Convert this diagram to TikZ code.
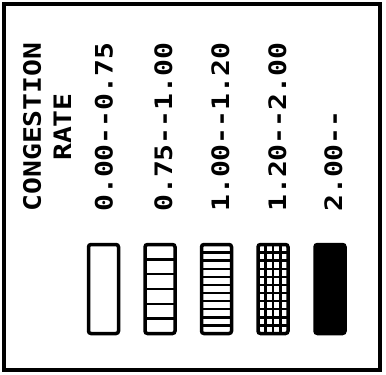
\documentclass[tikz,border=0pt]{standalone}
\usepackage{graphicx}
\usepackage{fontspec}
\newfontfamily\plotfont{DejaVu Sans Mono}
\newcommand{\dd}{-\kern0pt-}
\newcommand{\plottxt}[1]{\scalebox{1.17}[1]{\plotfont\bfseries #1}}
\begin{document}
\begin{tikzpicture}[x=1pt,y=-1pt,
  lbl/.style={rotate=90,anchor=base west,inner sep=0pt,font=\fontsize{24}{24}\selectfont},
  ttl/.style={rotate=90,anchor=base,inner sep=0pt,font=\fontsize{24}{24}\selectfont},
  keybox/.style={draw,line width=3.5pt,rounded corners=2.5pt},
  hatch/.style={line width=2.4pt}]
\useasboundingbox[fill=white] (0,0) rectangle (386,375);
\draw[line width=3.4pt] (4,4) rectangle (380,370);
% titles
\node[ttl] (t1) at (41,127) {\plottxt{CONGESTION}};
\node[ttl] (t2) at (71,127) {\plottxt{RATE}};
% labels
\node[lbl] (l1) at (112.5,212) {\plottxt{0.00\dd0.75}};
\node[lbl] (l2) at (172,212) {\plottxt{0.75\dd1.00}};
\node[lbl] (l3) at (229,212) {\plottxt{1.00\dd1.20}};
\node[lbl] (l4) at (286,212) {\plottxt{1.20\dd2.00}};
\node[lbl] (l5) at (342,212) {\plottxt{2.00\dd}};
% boxes
\def\bt{244.5}\def\bb{333.5}
% box 1
\draw[keybox] (88.5,\bt) rectangle (118.5,\bb);
% box 2
\draw[keybox] (145,\bt) rectangle (175,\bb);
\foreach \i in {1,...,5}{\draw[hatch] (145,{\bt+\i*89/6}) -- (175,{\bt+\i*89/6});}
% box 3
\draw[keybox] (201.5,\bt) rectangle (231.5,\bb);
\foreach \i in {1,...,10}{\draw[hatch] (201.5,{\bt+\i*89/11}) -- (231.5,{\bt+\i*89/11});}
% box 4
\draw[keybox] (258,\bt) rectangle (288,\bb);
\foreach \i in {1,...,10}{\draw[hatch] (258,{\bt+\i*89/11}) -- (288,{\bt+\i*89/11});}
\foreach \i in {1,2,3}{\draw[hatch] ({258+\i*7.5},\bt) -- ({258+\i*7.5},\bb);}
% box 5
\draw[keybox,fill=black] (315,\bt) rectangle (345,\bb);
\end{tikzpicture}
\end{document}
